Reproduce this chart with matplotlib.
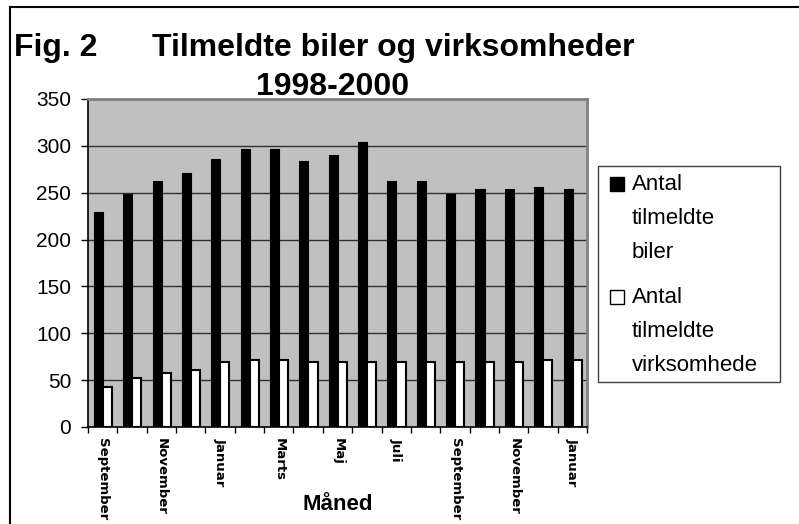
import numpy as np
import matplotlib.pyplot as plt
from matplotlib.patches import Rectangle
from matplotlib.lines import Line2D

plt.rcParams['font.family'] = ['Liberation Sans', 'DejaVu Sans']

# data aflaest fra figuren
maaneder = ['September', 'Oktober', 'November', 'December', 'Januar', 'Februar',
            'Marts', 'April', 'Maj', 'Juni', 'Juli', 'August', 'September',
            'Oktober', 'November', 'December', 'Januar']
biler = [229, 249, 262, 271, 286, 297, 297, 284, 290, 304, 262, 262, 249, 254, 254, 256, 254]
virksomheder = [43, 52, 58, 61, 69, 72, 72, 69, 69, 69, 69, 69, 69, 69, 69, 72, 72]
serie_navne = ['Antal\ntilmeldte\nbiler', 'Antal\ntilmeldte\nvirksomhede']
serie_farver = ['black', 'white']

W, H = 799, 524
fig = plt.figure(figsize=(W / 100, H / 100), dpi=100)
ax = fig.add_axes([88 / W, 1 - 427 / H, (587 - 88) / W, (427 - 99) / H])
ax.set_facecolor('#c0c0c0')

n = len(maaneder)
x = np.arange(n) + 0.51
bw = 0.31
ax.bar(x - bw / 2, biler, bw, color=serie_farver[0], edgecolor='black', linewidth=0.8, zorder=3)
ax.bar(x + bw / 2, virksomheder, bw, color=serie_farver[1], edgecolor='black', linewidth=1.5, zorder=3)

ax.set_xlim(0, n)
ax.set_ylim(0, 350)
ax.set_yticks(np.arange(0, 351, 50))
ax.tick_params(axis='y', labelsize=15, length=5, width=1, pad=7, direction='out')
for y in range(50, 350, 50):
    ax.axhline(y, color='#303030', linewidth=1, zorder=1)

# tick-streger mellem grupperne, navne under hver anden maaned
ax.set_xticks(np.arange(n + 1))
ax.set_xticklabels([])
ax.tick_params(axis='x', length=4, width=1, direction='out')
ax.set_xticks(x[::2], minor=True)
ax.set_xticklabels(maaneder[::2], minor=True, rotation=270, fontsize=9.5,
                   fontweight='bold', family='DejaVu Sans', va='top', ha='center')
ax.tick_params(axis='x', which='minor', length=0, pad=8)

ax.spines['top'].set_color('#808080')
ax.spines['right'].set_color('#808080')
ax.spines['top'].set_linewidth(2)
ax.spines['right'].set_linewidth(2)
ax.spines['left'].set_linewidth(1.2)
ax.spines['bottom'].set_linewidth(1.2)

fig.text(338 / W, 1 - 505 / H, 'Måned', fontsize=16, fontweight='bold', ha='center', va='center')

# titel
fig.text(14 / W, 1 - 56 / H, 'Fig. 2', fontsize=23, fontweight='bold', va='baseline')
fig.text(152 / W, 1 - 56 / H, 'Tilmeldte biler og virksomheder', fontsize=23, fontweight='bold', va='baseline')
fig.text(333 / W, 1 - 95 / H, '1998-2000', fontsize=23, fontweight='bold', va='baseline', ha='center')

# ramme om figuren (kun venstre og top synlig)
fig.add_artist(Line2D([10 / W, 10 / W], [0, 1 - 7 / H], color='black', linewidth=1.5))
fig.add_artist(Line2D([10 / W, 1], [1 - 7 / H, 1 - 7 / H], color='black', linewidth=1.5))

# signaturforklaring
fig.add_artist(Rectangle((598 / W, 1 - 382 / H), (780 - 598) / W, (382 - 166) / H,
                         transform=fig.transFigure, facecolor='white', edgecolor='#404040', linewidth=1))
for i, (navn, farve) in enumerate(zip(serie_navne, serie_farver)):
    top = 177 + i * 113
    fig.add_artist(Rectangle((610 / W, 1 - (top + 14) / H), 14 / W, 14 / H,
                             transform=fig.transFigure, facecolor=farve, edgecolor='black', linewidth=1))
    fig.text(632 / W, 1 - (top - 3) / H, navn, fontsize=16, va='top', ha='left', linespacing=1.8)

fig.savefig('out.png', dpi=100)
